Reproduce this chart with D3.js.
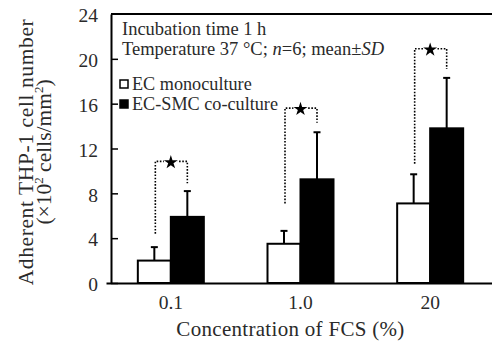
<!DOCTYPE html>
<html>
<head>
<meta charset="utf-8">
<script src="https://cdn.jsdelivr.net/npm/d3@7"></script>
<style>
  body { margin: 0; background: #fff; }
  svg text { font-family: "Liberation Serif", "Times New Roman", serif; fill: #2a2a2a; }
</style>
</head>
<body>
<div id="chart"></div>
<script>
// data
const categories = ["0.1", "1.0", "20"];
const seriesNames = ["EC monoculture", "EC-SMC co-culture"];
const monoMean = [2.0, 3.5, 7.1];
const monoSD = [1.2, 1.15, 2.6];
const coMean = [5.9, 9.25, 13.8];
const coSD = [2.3, 4.2, 4.5];
// significance brackets (star on top), y values
const bracketTop = [10.85, 15.6, 20.9];
const bracketLeftEnd = [4.4, 7.1, 10.65];
const bracketRightEnd = [8.9, 14.3, 19.1];
const yTicks = [0, 4, 8, 12, 16, 20, 24];

const W = 492, H = 343;
const margin = {top: 14, right: 0, bottom: 60, left: 111};
const width = W - margin.left - margin.right;
const height = H - margin.top - margin.bottom;

const svg = d3.select("#chart")
    .append("svg")
    .attr("width", W)
    .attr("height", H);

const g = svg.append("g")
    .attr("transform", `translate(${margin.left},${margin.top})`);

const xScale = d3.scaleBand().domain(categories).range([-5, 384]);
const yScale = d3.scaleLinear().domain([0, 24]).range([height, 0]);
const barW = 33;
const sub = d3.scaleBand().domain([0, 1]).range([-barW, barW]);

const rows = categories.map((c, i) => ({
    cat: c, i: i,
    bars: [
        {s: 0, mean: monoMean[i], sd: monoSD[i]},
        {s: 1, mean: coMean[i], sd: coSD[i]}
    ]
}));

// axes
const yAxis = g.append("g")
    .call(d3.axisLeft(yScale).tickValues(yTicks).tickSize(-7).tickPadding(13).tickSizeOuter(0));
yAxis.select(".domain").attr("stroke-width", 2);
yAxis.selectAll(".tick line").attr("stroke-width", 1.5);
yAxis.selectAll(".tick text").attr("font-size", 19.5).attr("dy", "0.4em");
yAxis.selectAll(".tick").filter(d => d === 24).select("line").remove();

const xAxis = g.append("g")
    .attr("transform", `translate(0,${height})`)
    .call(d3.axisBottom(xScale).tickSize(0).tickPadding(12).tickSizeOuter(0));
xAxis.select(".domain").attr("stroke-width", 2);
xAxis.selectAll(".tick text").attr("font-size", 19.5);

// top frame line
g.append("line")
    .attr("x1", 0).attr("x2", width)
    .attr("y1", yScale(24)).attr("y2", yScale(24))
    .attr("stroke", "#000").attr("stroke-width", 2);

// bars
const groups = g.selectAll(".grp").data(rows).join("g")
    .attr("class", "grp")
    .attr("transform", d => `translate(${xScale(d.cat) + xScale.bandwidth() / 2},0)`);

groups.selectAll("line.err").data(d => d.bars).join("line")
    .attr("class", "err")
    .attr("x1", d => sub(d.s) + barW / 2).attr("x2", d => sub(d.s) + barW / 2)
    .attr("y1", d => yScale(d.mean)).attr("y2", d => yScale(d.mean + d.sd))
    .attr("stroke", "#000").attr("stroke-width", 2);

groups.selectAll("line.cap").data(d => d.bars).join("line")
    .attr("class", "cap")
    .attr("x1", d => sub(d.s) + barW / 2 - 3.5).attr("x2", d => sub(d.s) + barW / 2 + 3.5)
    .attr("y1", d => yScale(d.mean + d.sd)).attr("y2", d => yScale(d.mean + d.sd))
    .attr("stroke", "#000").attr("stroke-width", 2);

groups.selectAll("rect").data(d => d.bars).join("rect")
    .attr("x", d => sub(d.s))
    .attr("y", d => yScale(d.mean))
    .attr("width", sub.bandwidth())
    .attr("height", d => yScale(0) - yScale(d.mean))
    .attr("fill", d => d.s === 0 ? "#fff" : "#000")
    .attr("stroke", "#000").attr("stroke-width", 2);

// significance brackets
groups.append("path")
    .attr("d", d => {
        const xl = sub(0) + barW / 2 + 1, xr = sub(1) + barW / 2;
        const t = yScale(bracketTop[d.i]);
        return `M${xl},${yScale(bracketLeftEnd[d.i])}V${t}H${xr}V${yScale(bracketRightEnd[d.i])}`;
    })
    .attr("fill", "none").attr("stroke", "#000")
    .attr("stroke-width", 1.6).attr("stroke-dasharray", "1.6,1.6");

groups.append("rect")
    .attr("x", -7).attr("y", d => yScale(bracketTop[d.i]) - 6)
    .attr("width", 14).attr("height", 10).attr("fill", "#fff");

groups.append("path")
    .attr("transform", d => `translate(0,${yScale(bracketTop[d.i]) + 1})`)
    .attr("d", d3.symbol(d3.symbolStar, 60))
    .attr("fill", "#000");

// annotation text
const note = g.append("g").attr("font-size", 18.5);
note.append("text").attr("x", 11).attr("y", 21).text("Incubation time 1 h");
const t2 = note.append("text").attr("x", 11).attr("y", 41);
t2.append("tspan").text("Temperature 37 \u00B0C; ");
t2.append("tspan").attr("font-style", "italic").text("n");
t2.append("tspan").text("=6; mean\u00B1");
t2.append("tspan").attr("font-style", "italic").text("SD");

// legend
const leg = g.append("g").selectAll("g").data(seriesNames).join("g")
    .attr("transform", (d, i) => `translate(9,${70 + i * 20})`);
leg.append("rect")
    .attr("x", 0).attr("y", -4).attr("width", 8).attr("height", 8)
    .attr("fill", (d, i) => i === 0 ? "#fff" : "#000")
    .attr("stroke", "#000").attr("stroke-width", 1.5);
leg.append("text").attr("x", 12).attr("y", 6).attr("font-size", 18.2).text(d => d);

// axis titles
svg.append("text")
    .attr("x", margin.left + (xScale("1.0") + xScale.bandwidth() / 2) - 10)
    .attr("y", 336)
    .attr("text-anchor", "middle").attr("font-size", 21).attr("letter-spacing", 0.3)
    .text("Concentration of FCS (%)");

const yt = svg.append("g").attr("transform", "translate(0,152) rotate(-90)")
    .attr("text-anchor", "middle").attr("font-size", 21.5);
yt.append("text").attr("x", 0).attr("y", 33).attr("letter-spacing", 0.6).text("Adherent THP-1 cell number");
const yt2 = yt.append("text").attr("x", 0).attr("y", 51);
yt2.append("tspan").text("(\u00D710");
yt2.append("tspan").attr("font-size", 13).attr("dy", -8).text("2");
yt2.append("tspan").attr("dy", 8).text(" cells/mm");
yt2.append("tspan").attr("font-size", 13).attr("dy", -8).text("2");
yt2.append("tspan").attr("dy", 8).text(")");
</script>
</body>
</html>
